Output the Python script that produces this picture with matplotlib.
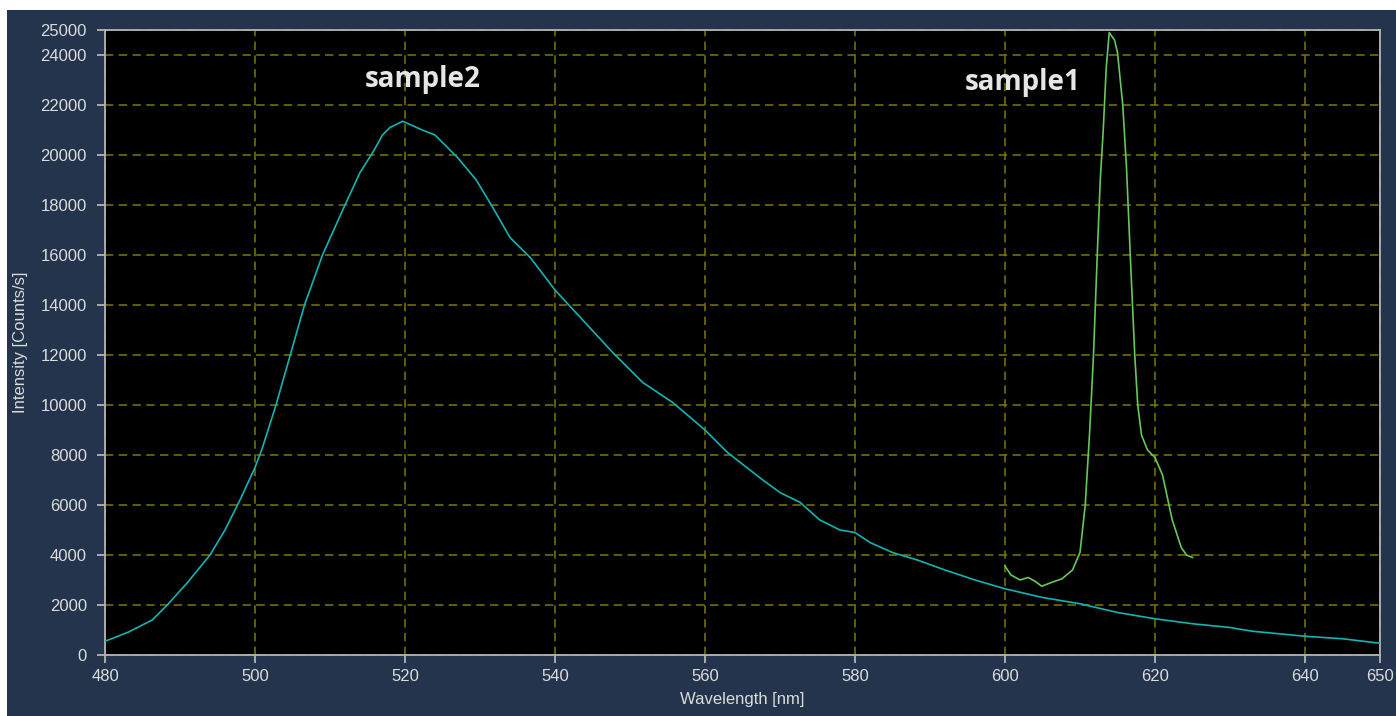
import numpy as np
import matplotlib
matplotlib.use('Agg')
import matplotlib.pyplot as plt
from matplotlib.patches import Rectangle

# sample2 spectrum (broad, cyan)
wl2 = [480, 483, 486.3, 488.3, 491, 494, 496, 498, 500, 501, 502.8, 504.7, 506.6,
       509, 512, 514, 515.7, 517, 518, 519.7, 522.3, 524, 527, 529.5, 531.7, 534,
       536.7, 540, 544, 547.7, 551.7, 555.7, 560, 563, 567.7, 570, 572.7, 575.3,
       578, 580, 582, 585, 588.3, 592, 596, 600, 605, 610, 615, 620, 625, 630,
       633, 640, 645, 650]
int2 = [550, 900, 1400, 2000, 2900, 4000, 5000, 6200, 7500, 8300, 10000, 12000, 14000,
        16000, 18000, 19300, 20100, 20800, 21100, 21350, 21000, 20800, 19900, 19000,
        17900, 16700, 15900, 14600, 13300, 12100, 10900, 10100, 9000, 8100, 7000,
        6500, 6100, 5400, 5000, 4900, 4500, 4100, 3800, 3400, 3000, 2650, 2300,
        2050, 1700, 1450, 1250, 1100, 950, 750, 650, 470]

# sample1 spectrum (narrow, green)
wl1 = [600.0, 600.8, 602.0, 603.1, 604.0, 604.9, 606.0, 607.6, 609.0, 610.0, 610.7,
       611.3, 611.8, 612.3, 612.7, 613.1, 613.5, 613.9, 614.6, 615.0, 615.7, 616.2,
       616.7, 617.3, 617.7, 618.2, 619.0, 620.0, 621.0, 622.3, 623.5, 624.2, 625.0]
int1 = [3550, 3200, 3000, 3100, 2950, 2750, 2880, 3050, 3400, 4100, 6000,
        9000, 12000, 16000, 19000, 21000, 23500, 24900, 24600, 24100, 22000, 19500,
        16000, 12000, 10000, 8800, 8200, 7900, 7200, 5400, 4300, 4000, 3900]

xticks = [480, 500, 520, 540, 560, 580, 600, 620, 640, 650]
yticks = list(range(0, 24001, 2000)) + [25000]

navy = '#24344c'
txt = '#dcdcdc'

fig = plt.figure(figsize=(13.96, 7.16), dpi=100, facecolor='white')
fig.patches.append(Rectangle((7/1396, 0), 1, 1 - 10/716, transform=fig.transFigure,
                             facecolor=navy, edgecolor='none', zorder=-10))
ax = fig.add_axes([105/1396, 1 - 655/716, 1275/1396, 625/716])
ax.set_zorder(5)
ax.set_facecolor('black')

ax.plot(wl2, int2, color='#12b4b4', lw=1.2, zorder=3)
ax.plot(wl1, int1, color='#66c85a', lw=1.2, zorder=3)

ax.set_xlim(480, 650)
ax.set_ylim(0, 25000)
ax.set_xticks(xticks)
ax.set_yticks(yticks)
ax.grid(True, color='#7a7a00', lw=1.1, linestyle=(0, (5.5, 3.5)), zorder=1)

for s in ax.spines.values():
    s.set_color('#b4b4b4')
    s.set_linewidth(1.3)
ax.tick_params(colors='#b4b4b4', labelcolor=txt, length=6, width=1.3,
               labelsize=12)
ax.tick_params(axis='y', pad=7)
ax.tick_params(axis='x', pad=4)
for lab in ax.get_xticklabels() + ax.get_yticklabels():
    lab.set_family('Liberation Sans')

ax.set_xlabel('Wavelength [nm]', color=txt, fontsize=12, family='Liberation Sans', labelpad=6)
ax.set_ylabel('Intensity [Counts/s]', color=txt, fontsize=12, family='Liberation Sans', labelpad=9)

ax.text(522.3, 23000, 'sample2', color='#e6e6e6', fontsize=20, fontweight='bold',
        family='Open Sans', ha='center', va='center')
ax.text(602.4, 22900, 'sample1', color='#e6e6e6', fontsize=20, fontweight='bold',
        family='Open Sans', ha='center', va='center')

fig.savefig('out.png', dpi=100, facecolor=fig.get_facecolor())
